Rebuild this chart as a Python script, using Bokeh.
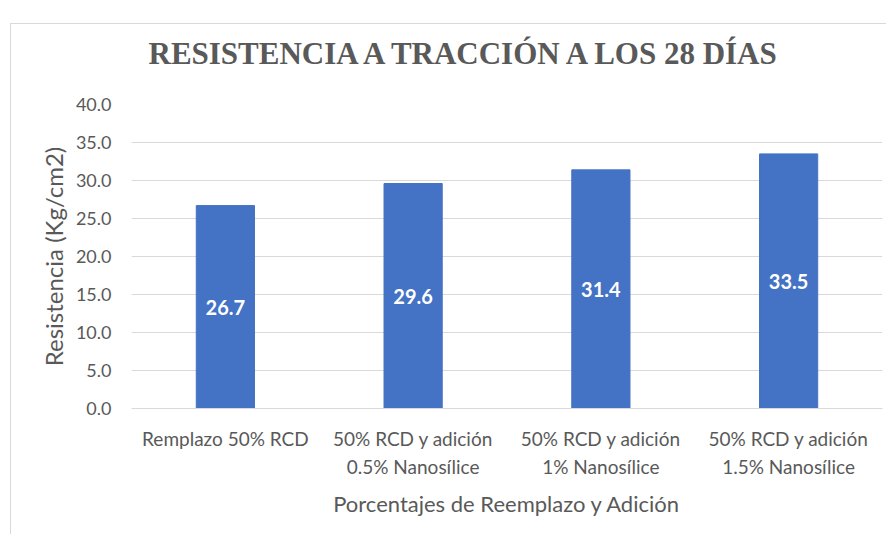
from bokeh.plotting import figure
from bokeh.models import ColumnDataSource, FixedTicker, Range1d, LinearAxis
from bokeh.core.properties import value
from bokeh.embed import file_html
from bokeh.resources import INLINE

title_text = "RESISTENCIA A TRACCIÓN A LOS 28 DÍAS"
categories_line1 = ["Remplazo 50% RCD", "50% RCD y adición",
                    "50% RCD y adición", "50% RCD y adición"]
categories_line2 = ["", "0.5% Nanosílice", "1% Nanosílice", "1.5% Nanosílice"]
resistencia = [26.7, 29.6, 31.4, 33.5]
y_ticks = [0, 5, 10, 15, 20, 25, 30, 35, 40]

n = len(resistencia)
xs = [i + 0.5 for i in range(n)]
src = ColumnDataSource(dict(
    x=xs, top=resistencia, mid=[v / 2 for v in resistencia],
    lab=[f"{v:.1f}" for v in resistencia]))

p = figure(width=876, height=534, output_backend="svg", toolbar_location=None,
           x_range=Range1d(0, n), y_range=Range1d(0, 40),
           min_border_left=121, min_border_right=4, min_border_top=104,
           min_border_bottom=126, x_axis_location=None)
p.border_fill_color = None
p.background_fill_color = None
line = "linear-gradient(#d9d9d9, #d9d9d9)"
p.styles = {"margin-left": "10px",
            "background": f"{line} 0px 23px / 100% 1px no-repeat, "
                          f"{line} 0px 23px / 1px 100% no-repeat"}

p.title.text = title_text
p.title.align = "left"
p.title.offset = 17
p.title.text_font = "Liberation Serif"
p.title.text_font_style = "bold"
p.title.text_font_size = "31px"
p.title.text_color = "#595959"
p.title.standoff = 67

p.vbar(x="x", top="top", width=0.31, source=src, color="#4472C4")
p.text(x="x", y="mid", text="lab", source=src, text_color="white",
       text_font=value("Lato"), text_font_style="bold", text_font_size="20px",
       text_align="center", text_baseline="middle")

ax1 = LinearAxis(ticker=FixedTicker(ticks=xs),
                 major_label_overrides={x: c for x, c in zip(xs, categories_line1)})
ax2 = LinearAxis(ticker=FixedTicker(ticks=xs),
                 major_label_overrides={x: c for x, c in zip(xs, categories_line2)})
p.add_layout(ax1, "below")
p.add_layout(ax2, "below")

for ax in (ax1, ax2, p.yaxis[0]):
    ax.major_tick_line_color = None
    ax.minor_tick_line_color = None
    ax.major_label_text_color = "#595959"
    ax.major_label_text_font = "Lato"
    ax.major_label_text_font_size = "19px"
    ax.axis_label_text_color = "#595959"
    ax.axis_label_text_font = "Lato"
    ax.axis_label_text_font_size = "22px"
    ax.axis_label_text_font_style = "normal"

p.yaxis.ticker = FixedTicker(ticks=y_ticks)
p.yaxis.major_label_overrides = {t: f"{t:.1f}" for t in y_ticks}
p.yaxis.major_label_text_font_size = "18px"
p.yaxis.axis_line_color = None
p.yaxis.major_label_standoff = 14
p.yaxis.axis_label = "Resistencia (Kg/cm2)"
p.yaxis.axis_label_text_font_size = "24px"
p.yaxis.axis_label_standoff = 5

ax1.axis_line_color = "#d9d9d9"
ax1.major_label_standoff = 12
ax2.axis_line_color = None
ax2.major_label_standoff = -4
ax2.axis_label = "Porcentajes de Reemplazo y Adición"
ax2.axis_label_standoff = 9

p.xgrid.grid_line_color = None
p.ygrid.grid_line_color = "#d9d9d9"
p.ygrid.ticker = FixedTicker(ticks=y_ticks)
p.outline_line_color = None

open("out.html", "w").write(file_html(p, INLINE))
